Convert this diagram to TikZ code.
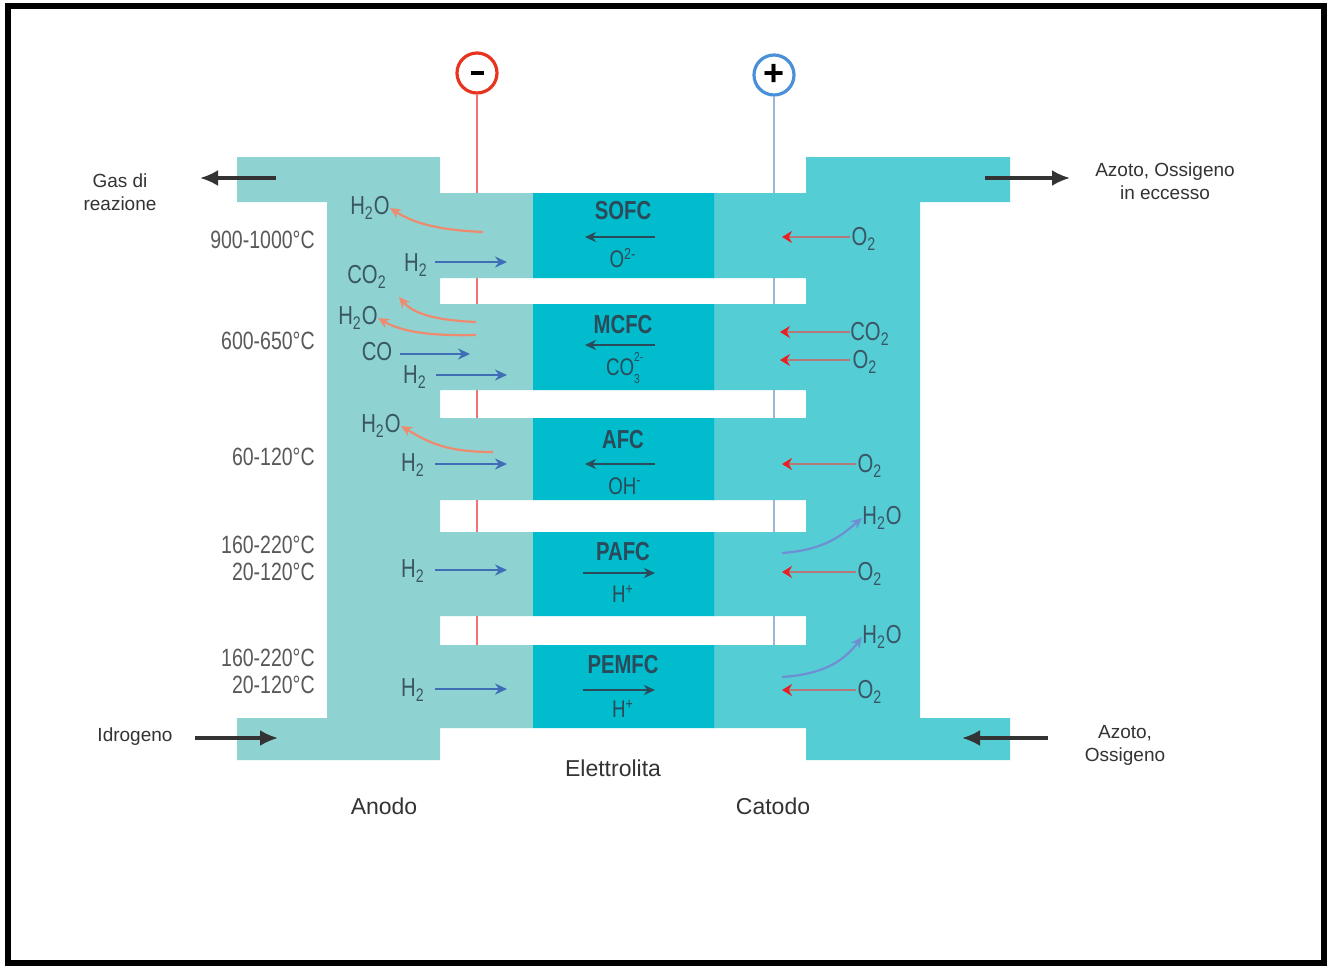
\documentclass[tikz,border=0pt]{standalone}
\usepackage{fontspec}
\setmainfont{Liberation Sans}
\newfontfamily\condfont[FakeStretch=0.78]{Liberation Sans}
\usetikzlibrary{arrows.meta}
\definecolor{anode}{HTML}{8ED3D1}
\definecolor{cathode}{HTML}{54CDD5}
\definecolor{electro}{HTML}{00BCCD}
\definecolor{slate}{HTML}{2B4A5A}
\definecolor{chemtxt}{HTML}{3A5666}
\definecolor{bluel}{HTML}{3F6DB6}
\definecolor{orangel}{HTML}{EE8A6E}
\definecolor{redline}{HTML}{B47878}
\definecolor{redhead}{HTML}{E82024}
\definecolor{bluecurve}{HTML}{6E8FD2}
\definecolor{minusred}{HTML}{E8341E}
\definecolor{plusblue}{HTML}{4A90D9}
\definecolor{wirered}{HTML}{F07272}
\definecolor{wireblue}{HTML}{9DB6D6}
\tikzset{
  outer/.style={font=\fontsize{9.5}{11.5}\selectfont, text=black!80, align=center, inner sep=0pt},
  bottomlbl/.style={font=\fontsize{11.5}{13}\selectfont, text=black!80, inner sep=0pt},
  temp/.style={font=\condfont\fontsize{12.5}{13.5}\selectfont, text=black!65, align=right, anchor=east, inner sep=0pt},
  cellname/.style={font=\condfont\bfseries\fontsize{13}{14}\selectfont, text=slate, inner sep=0pt},
  ion/.style={font=\condfont\fontsize{12}{13}\selectfont, text=slate, inner sep=0pt},
  chem/.style={font=\condfont\fontsize{13}{14}\selectfont, text=chemtxt, inner sep=0pt},
  bluearr/.style={draw=bluel, line width=1.2pt, -{Stealth[length=6pt,width=5.5pt]}},
  redarr/.style={draw=redline, line width=1.4pt, -{Stealth[length=5pt,width=6pt,color=redhead]}},
  orangearr/.style={draw=orangel, line width=1.1pt, -{Stealth[length=5.5pt,width=5pt]}},
  bluecurvearr/.style={draw=bluecurve, line width=1.1pt, -{Stealth[length=5.5pt,width=5pt]}},
  cellarr/.style={draw=slate, line width=1.1pt, -{Stealth[length=5.5pt,width=5pt]}},
  bigarr/.style={draw=black!80, line width=1.6pt, -{Latex[length=9pt,width=8pt]}},
  termcircle/.style={circle, minimum size=20pt, line width=1.6pt, fill=white, inner sep=0pt, font=\bfseries\fontsize{18}{18}\selectfont}
}
\begin{document}
\begin{tikzpicture}[x=0.5pt,y=-0.5pt]
\useasboundingbox (0,0) rectangle (1327,965);
\fill[white] (0,0) rectangle (1327,965);
\draw[line width=3pt] (8,6) rectangle (1324,963);

% terminals and wires
\node[termcircle, draw=minusred] (minus) at (477,73) {\rule{6.5pt}{2.4pt}};
\node[termcircle, draw=plusblue] (plus) at (774,75) {+};
\coordinate (wr) at (477,645);
\coordinate (wb) at (775,645);
\draw[wirered, line width=1.1pt] (minus.south) -- (wr);
\draw[wireblue, line width=1.1pt] (plus.south) -- (plus.south |- wb);

% anode body
\fill[anode] (237,157) rectangle (440,202)
  (327,157) rectangle (440,760)
  (237,718) rectangle (440,760)
  (439,193) rectangle (534,278)
  (439,304) rectangle (534,390)
  (439,418) rectangle (534,500)
  (439,532) rectangle (534,616)
  (439,645) rectangle (534,728);
% cathode body
\fill[cathode] (806,157) rectangle (1010,202)
  (806,157) rectangle (920,760)
  (806,718) rectangle (1010,760)
  (713,193) rectangle (807,278)
  (713,304) rectangle (807,390)
  (713,418) rectangle (807,500)
  (713,532) rectangle (807,616)
  (713,645) rectangle (807,728);
% electrolyte
\fill[electro] (533,193) rectangle (714,278)
  (533,304) rectangle (714,390)
  (533,418) rectangle (714,500)
  (533,532) rectangle (714,616)
  (533,645) rectangle (714,728);

% outer labels and arrows
\node[outer] (gas) at (120,192) {Gas di\\reazione};
\coordinate (gasS) at (276,178);
\coordinate (gasE) at (200,178);
\draw[bigarr] (gasS) -- (gasE);
\node[outer] (azout) at (1165,181) {Azoto, Ossigeno\\in eccesso};
\coordinate (azoS) at (985,178);
\coordinate (azoE) at (1070,178);
\draw[bigarr] (azoS) -- (azoE);
\node[outer] (idro) at (135,737) {Idrogeno};
\coordinate (idS) at (195,738);
\coordinate (idE) at (278,738);
\draw[bigarr] (idS) -- (idE);
\node[outer] (azin) at (1125,745) {Azoto,\\Ossigeno};
\coordinate (aziS) at (1048,738);
\coordinate (aziE) at (962,738);
\draw[bigarr] (aziS) -- (aziE);

\node[bottomlbl] (elet) at (613,768) {Elettrolita};
\node[bottomlbl] (anodo) at (384,806) {Anodo};
\node[bottomlbl] (catodo) at (773,806) {Catodo};

% temperatures
\node[temp] (t1) at (315,240) {900-1000°C};
\node[temp] (t2) at (315,341) {600-650°C};
\node[temp] (t3) at (315,457) {60-120°C};
\node[temp] (t4) at (315,558) {160-220°C\\20-120°C};
\node[temp] (t5) at (315,671) {160-220°C\\20-120°C};

% cell labels
\node[cellname] (sofc) at (623,211) {SOFC};
\node[ion] (ion1) at (623,258) {O\textsuperscript{2-}};
\coordinate (c1s) at (655,237); \coordinate (c1e) at (585,237);
\draw[cellarr] (c1s) -- (c1e);
\node[cellname] (mcfc) at (623,325) {MCFC};
\node[ion] (ion2) at (623,368) {CO\makebox[0pt][l]{\raisebox{1.1ex}{\fontsize{6.5}{7}\selectfont 2-}}\raisebox{-0.7ex}{\fontsize{6.5}{7}\selectfont 3}};
\coordinate (c2s) at (655,345); \coordinate (c2e) at (585,345);
\draw[cellarr] (c2s) -- (c2e);
\node[cellname] (afc) at (623,440) {AFC};
\node[ion] (ion3) at (625,486) {OH\textsuperscript{-}};
\coordinate (c3s) at (655,464); \coordinate (c3e) at (585,464);
\draw[cellarr] (c3s) -- (c3e);
\node[cellname] (pafc) at (623,552) {PAFC};
\node[ion] (ion4) at (623,594) {H\textsuperscript{+}};
\coordinate (c4s) at (583,573); \coordinate (c4e) at (655,573);
\draw[cellarr] (c4s) -- (c4e);
\node[cellname] (pemfc) at (623,665) {PEMFC};
\node[ion] (ion5) at (623,709) {H\textsuperscript{+}};
\coordinate (c5s) at (583,690); \coordinate (c5e) at (655,690);
\draw[cellarr] (c5s) -- (c5e);

% anode side species
\node[chem] (aw1) at (370,208) {H\textsubscript{2}O};
\coordinate (aw1s) at (483,232);
\draw[orangearr] (aw1s) .. controls (440,230) and (415,224) .. (aw1.east);
\node[chem] (ah1) at (416,265) {H\textsubscript{2}};
\coordinate (ah1s) at (435,262); \coordinate (ah1e) at (507,262);
\draw[bluearr] (ah1s) -- (ah1e);

\node[chem] (ac2) at (367,277) {CO\textsubscript{2}};
\coordinate (ac2s) at (476,322);
\draw[orangearr] (ac2s) .. controls (430,320) and (412,312) .. (399,297);
\node[chem] (aw2) at (358,318) {H\textsubscript{2}O};
\coordinate (aw2s) at (476,335);
\draw[orangearr] (aw2s) .. controls (430,336) and (402,332) .. (aw2.east);
\node[chem] (aco) at (377,352) {CO};
\coordinate (acos) at (400,354); \coordinate (acoe) at (470,354);
\draw[bluearr] (acos) -- (acoe);
\node[chem] (ah2) at (415,377) {H\textsubscript{2}};
\coordinate (ah2s) at (436,375); \coordinate (ah2e) at (507,375);
\draw[bluearr] (ah2s) -- (ah2e);

\node[chem] (aw3) at (381,426) {H\textsubscript{2}O};
\coordinate (aw3s) at (493,452);
\draw[orangearr] (aw3s) .. controls (445,452) and (428,442) .. (aw3.east);
\node[chem] (ah3) at (413,465) {H\textsubscript{2}};
\coordinate (ah3s) at (435,464); \coordinate (ah3e) at (507,464);
\draw[bluearr] (ah3s) -- (ah3e);

\node[chem] (ah4) at (413,571) {H\textsubscript{2}};
\coordinate (ah4s) at (435,570); \coordinate (ah4e) at (507,570);
\draw[bluearr] (ah4s) -- (ah4e);

\node[chem] (ah5) at (413,690) {H\textsubscript{2}};
\coordinate (ah5s) at (435,689); \coordinate (ah5e) at (507,689);
\draw[bluearr] (ah5s) -- (ah5e);

% cathode side species
\node[chem] (co1) at (864,239) {O\textsubscript{2}};
\coordinate (co1s) at (850,237); \coordinate (co1e) at (782,237);
\draw[redarr] (co1s) -- (co1e);
\node[chem] (cc2) at (870,334) {CO\textsubscript{2}};
\coordinate (cc2s) at (850,332); \coordinate (cc2e) at (780,332);
\draw[redarr] (cc2s) -- (cc2e);
\node[chem] (co2) at (865,362) {O\textsubscript{2}};
\coordinate (co2s) at (850,360); \coordinate (co2e) at (780,360);
\draw[redarr] (co2s) -- (co2e);
\node[chem] (co3) at (870,466) {O\textsubscript{2}};
\coordinate (co3s) at (856,464); \coordinate (co3e) at (782,464);
\draw[redarr] (co3s) -- (co3e);
\node[chem] (cw4) at (882,518) {H\textsubscript{2}O};
\coordinate (cw4s) at (782,553);
\draw[bluecurvearr] (cw4s) .. controls (825,550) and (842,535) .. (cw4.west);
\node[chem] (co4) at (870,574) {O\textsubscript{2}};
\coordinate (co4s) at (856,572); \coordinate (co4e) at (782,572);
\draw[redarr] (co4s) -- (co4e);
\node[chem] (cw5) at (882,637) {H\textsubscript{2}O};
\coordinate (cw5s) at (782,677);
\draw[bluecurvearr] (cw5s) .. controls (828,674) and (846,658) .. (cw5.west);
\node[chem] (co5) at (870,692) {O\textsubscript{2}};
\coordinate (co5s) at (856,690); \coordinate (co5e) at (782,690);
\draw[redarr] (co5s) -- (co5e);
\end{tikzpicture}
\end{document}
